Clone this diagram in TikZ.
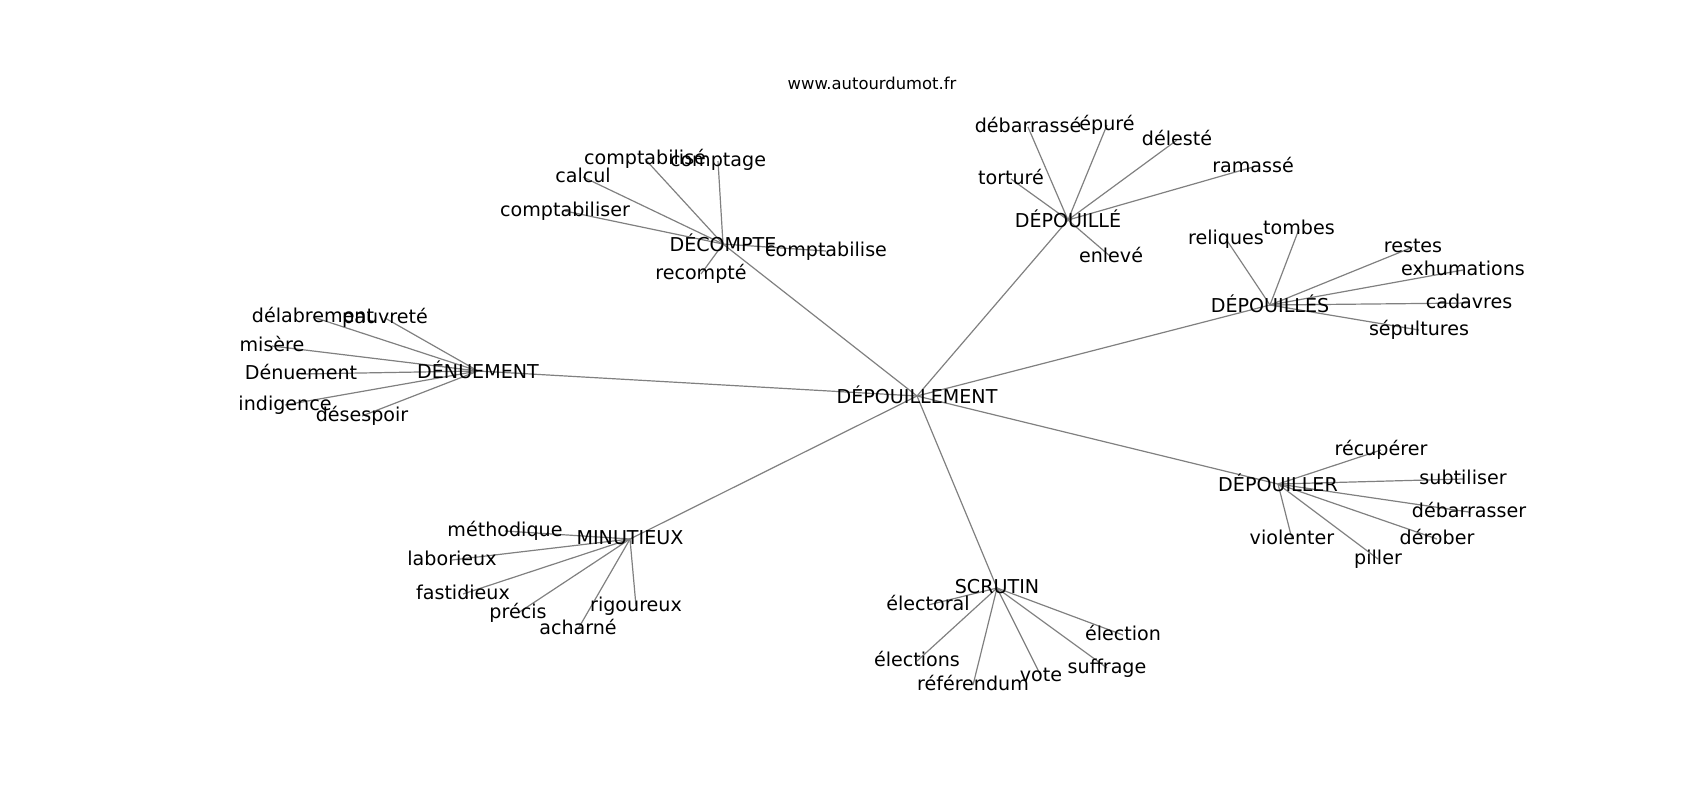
\documentclass[tikz,border=0pt]{standalone}
\usepackage{fontspec}
\setmainfont{DejaVu Sans}
\pgfdeclarelayer{background}
\pgfsetlayers{background,main}
\begin{document}
\begin{tikzpicture}[x=0.5pt,y=-0.5pt,
  lbl/.style={inner sep=0pt,anchor=center,text height=0.76em,text depth=0.208em,font=\fontsize{9.55pt}{11pt}\selectfont},
  hub/.style={lbl,text height=0.93em},
  ttl/.style={inner sep=0pt,anchor=center,font=\fontsize{8.2pt}{10pt}\selectfont},
  edge/.style={draw=black!50,line width=0.6pt}]
\useasboundingbox (0,0) rectangle (1700,800);
\node[ttl] (title) at (872,83) {www.autourdumot.fr};
% hubs
\node[hub] (dep) at (917,396) {DÉPOUILLEMENT};
\node[hub] (dec) at (723,244) {DÉCOMPTE};
\node[hub] (dpe) at (1068,220) {DÉPOUILLÉ};
\node[hub] (dps) at (1270,305) {DÉPOUILLÉS};
\node[hub] (den) at (478,371) {DÉNUEMENT};
\node[hub] (dpr) at (1278,484) {DÉPOUILLER};
\node[lbl] (min) at (630,539) {MINUTIEUX};
\node[lbl] (scr) at (997,588) {SCRUTIN};
% DECOMPTE leaves
\node[lbl] (c1) at (645,159) {comptabilisé};
\node[lbl] (c2) at (718,161) {comptage};
\node[lbl] (c3) at (583,177) {calcul};
\node[lbl] (c4) at (565,211) {comptabiliser};
\node[lbl] (c5) at (826,251) {comptabilise};
\node[lbl] (c6) at (701,274) {recompté};
% DEPOUILLE leaves
\node[lbl] (e1) at (1028,127) {débarrassé};
\node[lbl] (e2) at (1107,125) {épuré};
\node[lbl] (e3) at (1177,140) {délesté};
\node[lbl] (e4) at (1253,167) {ramassé};
\node[lbl] (e5) at (1011,179) {torturé};
\node[lbl] (e6) at (1111,257) {enlevé};
% DEPOUILLES leaves
\node[lbl] (s1) at (1226,239) {reliques};
\node[lbl] (s2) at (1299,229) {tombes};
\node[lbl] (s3) at (1413,247) {restes};
\node[lbl] (s4) at (1463,270) {exhumations};
\node[lbl] (s5) at (1469,303) {cadavres};
\node[lbl] (s6) at (1419,330) {sépultures};
% DENUEMENT leaves
\node[lbl] (n1) at (313,317) {délabrement};
\node[lbl] (n2) at (385,318) {pauvreté};
\node[lbl] (n3) at (272,346) {misère};
\node[lbl] (n4) at (301,374) {Dénuement};
\node[lbl] (n5) at (285,405) {indigence};
\node[lbl] (n6) at (362,416) {désespoir};
% DEPOUILLER leaves
\node[lbl] (r1) at (1381,450) {récupérer};
\node[lbl] (r2) at (1463,479) {subtiliser};
\node[lbl] (r3) at (1469,512) {débarrasser};
\node[lbl] (r4) at (1437,539) {dérober};
\node[lbl] (r5) at (1378,559) {piller};
\node[lbl] (r6) at (1292,539) {violenter};
% MINUTIEUX leaves
\node[lbl] (m1) at (505,531) {méthodique};
\node[lbl] (m2) at (452,560) {laborieux};
\node[lbl] (m3) at (463,594) {fastidieux};
\node[lbl] (m4) at (518,613) {précis};
\node[lbl] (m5) at (578,629) {acharné};
\node[lbl] (m6) at (636,606) {rigoureux};
% SCRUTIN leaves
\node[lbl] (t1) at (928,605) {électoral};
\node[lbl] (t2) at (917,661) {élections};
\node[lbl] (t3) at (973,685) {référendum};
\node[lbl] (t4) at (1041,676) {vote};
\node[lbl] (t5) at (1107,668) {suffrage};
\node[lbl] (t6) at (1123,635) {élection};
\begin{pgfonlayer}{background}
\foreach \h in {dec,dpe,dps,den,dpr,min,scr} \draw[edge] (dep.center) -- (\h.center);
\foreach \n in {c1,c2,c3,c4,c5,c6} \draw[edge] (dec.center) -- (\n.center);
\foreach \n in {e1,e2,e3,e4,e5,e6} \draw[edge] (dpe.center) -- (\n.center);
\foreach \n in {s1,s2,s3,s4,s5,s6} \draw[edge] (dps.center) -- (\n.center);
\foreach \n in {n1,n2,n3,n4,n5,n6} \draw[edge] (den.center) -- (\n.center);
\foreach \n in {r1,r2,r3,r4,r5,r6} \draw[edge] (dpr.center) -- (\n.center);
\foreach \n in {m1,m2,m3,m4,m5,m6} \draw[edge] (min.center) -- (\n.center);
\foreach \n in {t1,t2,t3,t4,t5,t6} \draw[edge] (scr.center) -- (\n.center);
\end{pgfonlayer}
\end{tikzpicture}
\end{document}
